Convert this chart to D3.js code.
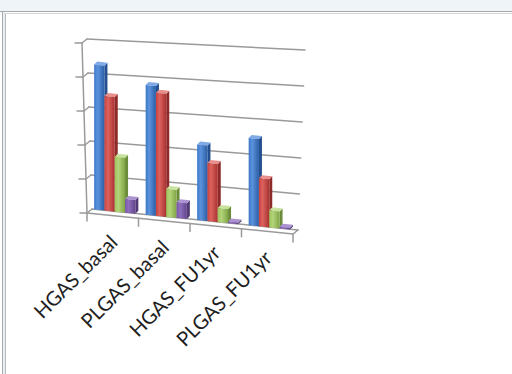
<!DOCTYPE html>
<html>
<head>
<meta charset="utf-8">
<script src="https://cdn.jsdelivr.net/npm/d3@7"></script>
<style>
  html, body { margin: 0; padding: 0; background: #eff4f8; }
  svg { display: block; }
</style>
</head>
<body>
<svg id="chart" width="512" height="374"></svg>
<script>
// Categories and the four series of the clustered 3-D column chart
const categories = ["HGAS_basal", "PLGAS_basal", "HGAS_FU1yr", "PLGAS_FU1yr"];
const seriesNames = ["Series 1", "Series 2", "Series 3", "Series 4"];
const blueValues = [85, 75, 43, 49];
const redValues = [67, 71, 33, 27];
const greenValues = [32, 16, 8, 9.5];
const purpleValues = [8, 9, 1, 1];
const yTicks = [0, 20, 40, 60, 80, 100];

const seriesValues = [blueValues, redValues, greenValues, purpleValues];
const seriesColors = [
  { light: "#5b93dc", mid: "#3c78c9", dark: "#2b5ea6", side: "#24508f", top: "#7faae6" },
  { light: "#dc625e", mid: "#c9423e", dark: "#a83230", side: "#8e2a28", top: "#e88e8b" },
  { light: "#b3d57a", mid: "#9cc35a", dark: "#7fa545", side: "#6b8d39", top: "#c9e29e" },
  { light: "#8f6fbd", mid: "#7a58a8", dark: "#62458c", side: "#523a76", top: "#ab92d0" }
];

const svg = d3.select("#chart");

// panel frame
svg.append("rect").attr("x", 0).attr("y", 11).attr("width", 512).attr("height", 363).attr("fill", "#ffffff");
svg.append("line").attr("x1", 0).attr("x2", 512).attr("y1", 11.5).attr("y2", 11.5).attr("stroke", "#a9a9a9");
svg.append("line").attr("x1", 2.5).attr("x2", 2.5).attr("y1", 11).attr("y2", 374).attr("stroke", "#a9a9a9");
svg.append("line").attr("x1", 5.5).attr("x2", 5.5).attr("y1", 13).attr("y2", 374).attr("stroke", "#b8b8b8");
svg.append("rect").attr("x", 3).attr("y", 12).attr("width", 2).attr("height", 362).attr("fill", "#e8eef2");
svg.append("line").attr("x1", 5).attr("x2", 512).attr("y1", 13.5).attr("y2", 13.5).attr("stroke", "#d6d6d6");

// scales: category position across the floor (0..1) and value height (0..1)
const xBand = d3.scaleBand().domain(categories).range([0, 1]).paddingInner(0.2).paddingOuter(0.1);
const sBand = d3.scaleBand().domain(seriesNames).range([0, xBand.bandwidth()]);
const yScale = d3.scaleLinear().domain([0, 100]).range([0, 1]);

// back-wall corners in screen space (perspective quad)
const wallBL = [92, 209], wallBR = [298, 230], wallTL = [87, 39], wallTR = [305, 50];
const depth = [-5, 4]; // back wall -> front edge
const lerp = (a, b, t) => a + (b - a) * t;
function wall(t, f) {
  const lx = lerp(wallBL[0], wallTL[0], f), rx = lerp(wallBR[0], wallTR[0], f);
  const by = lerp(wallBL[1], wallBR[1], t), ty = lerp(wallTL[1], wallTR[1], t);
  return [lerp(lx, rx, t), lerp(by, ty, f)];
}
const front = p => [p[0] + depth[0], p[1] + depth[1]];

const grid = svg.append("g").attr("stroke", "#9a9a9a").attr("stroke-width", 1.5).attr("fill", "none")
  .attr("stroke-linecap", "round");

// gridlines on back and side walls, value-axis ticks
yTicks.forEach(v => {
  const f = yScale(v);
  const a = wall(0, f), b = wall(1, f), fa = front(a);
  grid.append("line").attr("x1", a[0]).attr("y1", a[1]).attr("x2", b[0]).attr("y2", b[1]);
  grid.append("line").attr("x1", fa[0]).attr("y1", fa[1]).attr("x2", a[0]).attr("y2", a[1]);
  grid.append("line").attr("x1", fa[0] - 7).attr("y1", fa[1]).attr("x2", fa[0]).attr("y2", fa[1]);
});
// value axis line
{
  const a = front(wall(0, 0)), b = front(wall(0, 1));
  grid.append("line").attr("x1", a[0]).attr("y1", a[1]).attr("x2", b[0]).attr("y2", b[1]);
}
// floor front and right edges
{
  const fl = front(wall(0, 0)), fr = front(wall(1, 0)), br = wall(1, 0);
  grid.append("path").attr("d", d3.line()([fl, fr, br]));
}
// category ticks between clusters
d3.range(categories.length + 1).forEach(i => {
  const p = front(wall(i / categories.length, 0));
  grid.append("line").attr("x1", p[0]).attr("y1", p[1]).attr("x2", p[0]).attr("y2", p[1] + 8);
});

// gradients for the bar fronts
const defs = svg.append("defs");
seriesColors.forEach((c, i) => {
  const g = defs.append("linearGradient").attr("id", "grad" + i).attr("x1", 0).attr("x2", 1).attr("y1", 0).attr("y2", 0);
  g.append("stop").attr("offset", "0%").attr("stop-color", c.mid);
  g.append("stop").attr("offset", "35%").attr("stop-color", c.light);
  g.append("stop").attr("offset", "100%").attr("stop-color", c.dark);
});

// bars
const barDepth = [3, -3];
const barOffset = [-3, 0];
const bars = svg.append("g");
categories.forEach((cat, ci) => {
  seriesNames.forEach((s, si) => {
    const v = seriesValues[si][ci];
    const t0 = xBand(cat) + sBand(s), t1 = t0 + sBand.bandwidth(), tc = (t0 + t1) / 2;
    const f = yScale(v);
    const b0 = wall(t0, 0), b1 = wall(t1, 0);
    const x0 = b0[0] + barOffset[0], x1 = b1[0] + barOffset[0];
    const yb0 = b0[1] + barOffset[1], yb1 = b1[1] + barOffset[1];
    const h = wall(tc, 0)[1] - wall(tc, f)[1];
    const yt0 = yb0 - h, yt1 = yb1 - h;
    const c = seriesColors[si];
    const dx = barDepth[0], dy = barDepth[1];
    // right side face
    bars.append("path")
      .attr("d", d3.line()([[x1, yt1], [x1 + dx, yt1 + dy], [x1 + dx, yb1 + dy], [x1, yb1]]) + "Z")
      .attr("fill", c.side);
    // top face
    bars.append("path")
      .attr("d", d3.line()([[x0, yt0], [x0 + dx, yt0 + dy], [x1 + dx, yt1 + dy], [x1, yt1]]) + "Z")
      .attr("fill", c.top);
    // front face
    bars.append("path")
      .attr("d", d3.line()([[x0, yt0], [x1, yt1], [x1, yb1], [x0, yb0]]) + "Z")
      .attr("fill", `url(#grad${si})`);
  });
});

// rotated category labels
const labels = svg.append("g")
  .attr("font-family", "Lato, 'Open Sans', sans-serif")
  .attr("font-size", 20)
  .attr("fill", "#1e1e1e");
categories.forEach(cat => {
  const p = front(wall(xBand(cat) + xBand.bandwidth() / 2, 0));
  labels.append("text")
    .attr("transform", `translate(${p[0] + 6},${p[1] + 28}) rotate(-45)`)
    .attr("text-anchor", "end")
    .text(cat);
});
</script>
</body>
</html>
